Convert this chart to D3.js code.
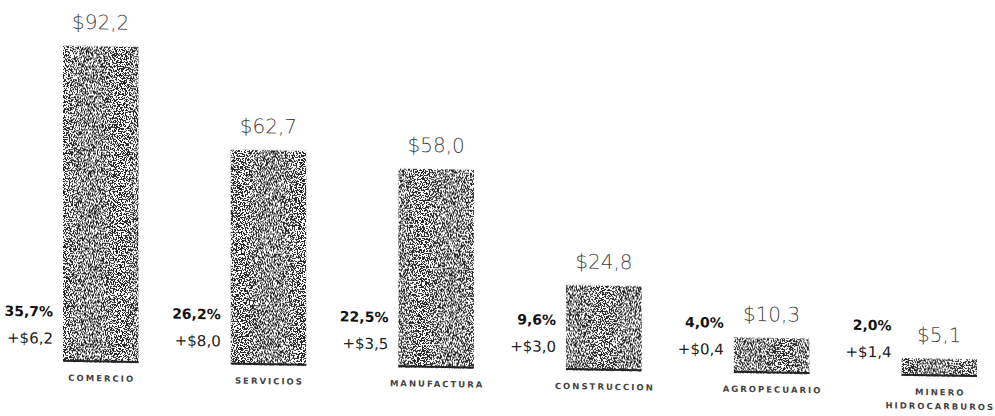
<!DOCTYPE html>
<html>
<head>
<meta charset="utf-8">
<script src="https://cdn.jsdelivr.net/npm/d3@7"></script>
<style>
  body { margin: 0; background: #fff; }
  svg { display: block; }
</style>
</head>
<body>
<div id="chart"></div>
<script>
// data
var categories = ["COMERCIO", "SERVICIOS", "MANUFACTURA", "CONSTRUCCION", "AGROPECUARIO", "MINERO|HIDROCARBUROS"];
var values = [92.2, 62.7, 58.0, 24.8, 10.3, 5.1];
var shares = [35.7, 26.2, 22.5, 9.6, 4.0, 2.0];
var changes = [6.2, 8.0, 3.5, 3.0, 0.4, 1.4];

var full_width = 995, full_height = 416;
var baseY = 360.7;   // baseline before the scan skew
var skew = 0.95;     // the page was scanned slightly tilted

// spanish number format: comma decimal
var es = d3.formatLocale({decimal: ",", thousands: ".", grouping: [3], currency: ["$", ""]});
var f1 = es.format(".1f");

var data = categories.map(function(c, i) {
    return {cat: c, value: values[i], share: shares[i], change: changes[i]};
});

var svg = d3.select("#chart")
    .append("svg")
    .attr("width", full_width)
    .attr("height", full_height);

// dither texture for the bars
var defs = svg.append("defs");
var filt = defs.append("filter")
    .attr("id", "dither")
    .attr("x", 0).attr("y", 0).attr("width", 1).attr("height", 1)
    .attr("color-interpolation-filters", "sRGB");
filt.append("feTurbulence")
    .attr("type", "fractalNoise")
    .attr("baseFrequency", 0.75)
    .attr("numOctaves", 2)
    .attr("seed", 7)
    .attr("result", "noise");
filt.append("feColorMatrix")
    .attr("in", "noise")
    .attr("type", "matrix")
    .attr("values", "1 0 0 0 0  1 0 0 0 0  1 0 0 0 0  0 0 0 0 1")
    .attr("result", "gray");
var ct = filt.append("feComponentTransfer").attr("in", "gray").attr("result", "bw");
["feFuncR", "feFuncG", "feFuncB"].forEach(function(fn) {
    ct.append(fn).attr("type", "discrete")
        .attr("tableValues", "0.15 1");
});
filt.append("feComposite")
    .attr("in", "bw")
    .attr("in2", "SourceGraphic")
    .attr("operator", "in");

var g = svg.append("g")
    .attr("transform", "skewY(" + skew + ")");

// scales
var x = d3.scaleBand()
    .domain(categories)
    .range([63, 977])
    .paddingInner(0.55)
    .paddingOuter(0);

var y = d3.scaleLinear()
    .domain([0, d3.max(values)])
    .range([baseY, baseY - 316]);

// bars
g.selectAll(".bar")
    .data(data)
    .enter().append("rect")
    .attr("class", "bar")
    .attr("x", function(d) { return x(d.cat); })
    .attr("y", function(d) { return y(d.value); })
    .attr("width", x.bandwidth())
    .attr("height", function(d) { return y(0) - y(d.value); })
    .attr("fill", "#777")
    .attr("filter", "url(#dither)");

// dark bottom edge of each bar
g.selectAll(".edge")
    .data(data)
    .enter().append("line")
    .attr("class", "edge")
    .attr("x1", function(d) { return x(d.cat); })
    .attr("x2", function(d) { return x(d.cat) + x.bandwidth(); })
    .attr("y1", y(0) - 1)
    .attr("y2", y(0) - 1)
    .style("stroke", "#222")
    .style("stroke-width", 2);

// value labels above the bars
g.selectAll(".val")
    .data(data)
    .enter().append("text")
    .attr("class", "val")
    .attr("x", function(d) { return x(d.cat) + x.bandwidth() / 2; })
    .attr("y", function(d) { return y(d.value) - 17; })
    .attr("text-anchor", "middle")
    .style("font", "200 20px 'DejaVu Sans', sans-serif")
    .style("fill", "#444")
    .text(function(d) { return "$" + f1(d.value); });

// share and change labels left of each bar
g.selectAll(".share")
    .data(data)
    .enter().append("text")
    .attr("class", "share")
    .attr("x", function(d) { return x(d.cat) - 10; })
    .attr("y", y(0) - 45)
    .attr("text-anchor", "end")
    .style("font", "bold 14px 'DejaVu Sans', sans-serif")
    .style("fill", "#111")
    .text(function(d) { return f1(d.share) + "%"; });

g.selectAll(".change")
    .data(data)
    .enter().append("text")
    .attr("class", "change")
    .attr("x", function(d) { return x(d.cat) - 10; })
    .attr("y", y(0) - 18)
    .attr("text-anchor", "end")
    .style("font", "15px 'DejaVu Sans', sans-serif")
    .style("fill", "#222")
    .text(function(d) { return "+$" + f1(d.change); });

// category labels below the bars
var catText = g.selectAll(".cat")
    .data(data)
    .enter().append("text")
    .attr("class", "cat")
    .attr("y", y(0) + 19)
    .attr("text-anchor", "middle")
    .style("font", "bold 8.5px 'DejaVu Sans', sans-serif")
    .style("letter-spacing", "2px")
    .style("fill", "#444");

catText.each(function(d) {
    var lines = d.cat.split("|");
    var t = d3.select(this);
    lines.forEach(function(l, i) {
        t.append("tspan")
            .attr("x", x(d.cat) + x.bandwidth() / 2 + 1)
            .attr("dy", i === 0 ? 0 : 14)
            .text(l);
    });
});
</script>
</body>
</html>
